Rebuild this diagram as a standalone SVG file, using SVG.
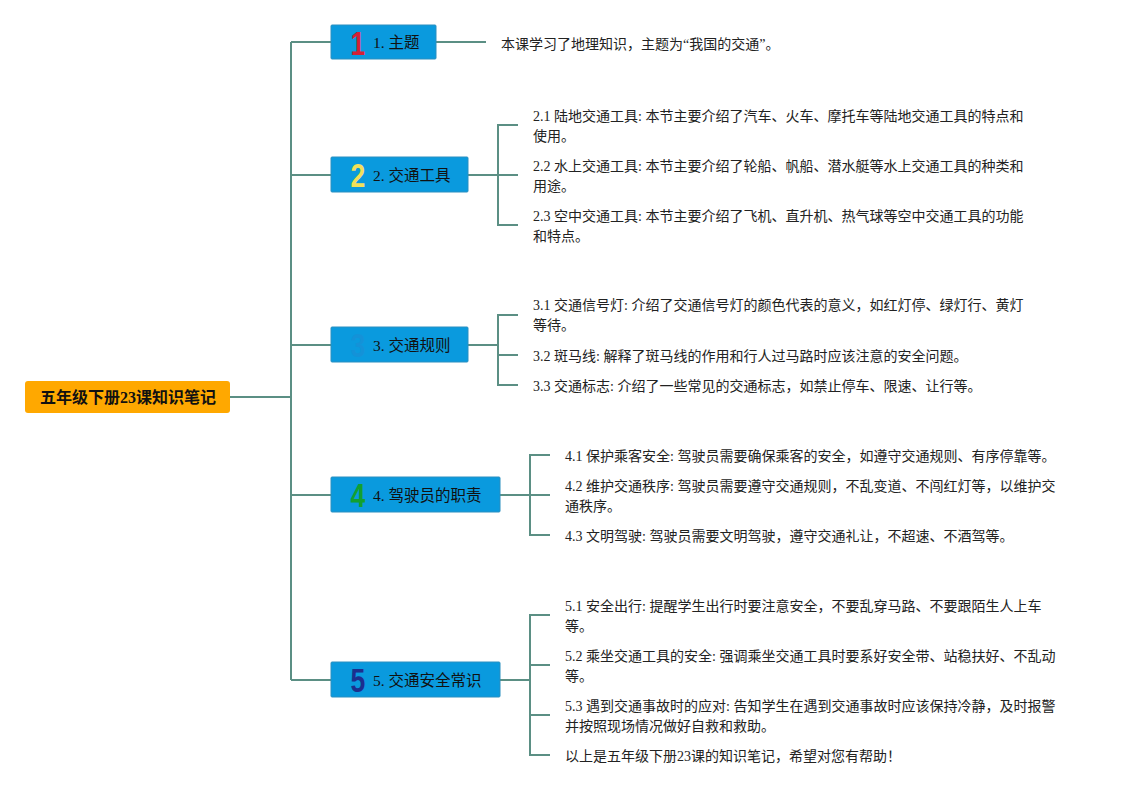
<svg xmlns="http://www.w3.org/2000/svg" width="1125" height="795" viewBox="0 0 1125 795">
<style>
.ln{fill:none;stroke:#5b8f84;stroke-width:2}
.box{fill:#0a9ade;stroke:#2a8fc0;stroke-width:1}
.nt{font-family:"Liberation Serif","Noto Sans CJK SC",serif;font-size:15.5px;fill:#111}
.num{font-family:"Liberation Sans","DejaVu Sans",sans-serif;font-size:34px;font-weight:bold;text-anchor:middle}
.t{font-family:"Liberation Serif","Noto Sans CJK SC",serif;font-size:14px;fill:#222}
.root{font-family:"Liberation Serif","Noto Sans CJK SC",serif;font-size:16px;font-weight:bold;fill:#111;text-anchor:middle}
</style>
<rect width="1125" height="795" fill="#fff"/>
<g id="connectors">
<path class="ln" d="M230 397H291M291 42V680M291 42H331M291 175H331M291 345H331M291 495H331M291 680H331"/>
<path class="ln" d="M436 42H486"/>
<path class="ln" d="M468 175H498M518 125H498V225H518M498 175H518"/>
<path class="ln" d="M468 345H498M518 315H498V385H518M498 355H518"/>
<path class="ln" d="M500 495H530M550 455H530V535H550M530 495H550"/>
<path class="ln" d="M500 680H530M550 615H530V755H550M530 665H550M530 715H550"/>
</g>
<g id="root">
<rect x="25" y="381" width="205" height="32" rx="3" fill="#ffa800"/>
<text class="root" x="128" y="403">五年级下册23课知识笔记</text>
</g>
<g id="n1">
<rect class="box" x="331" y="25" width="105" height="34" rx="1"/>
<text class="num" transform="translate(358 54.5) scale(0.78 1)" fill="#d42035">1</text>
<text class="nt" x="373" y="48">1. 主题</text>
</g>
<g id="n2">
<rect class="box" x="331" y="157" width="137" height="35" rx="1"/>
<text class="num" transform="translate(358 187) scale(0.78 1)" fill="#f2e05a">2</text>
<text class="nt" x="373" y="181">2. 交通工具</text>
</g>
<g id="n3">
<rect class="box" x="331" y="327" width="137" height="35" rx="1"/>
<text class="num" transform="translate(358 357) scale(0.78 1)" fill="#1492d8">3</text>
<text class="nt" x="373" y="351">3. 交通规则</text>
</g>
<g id="n4">
<rect class="box" x="331" y="477" width="169" height="35" rx="1"/>
<text class="num" transform="translate(358 507) scale(0.78 1)" fill="#12a030">4</text>
<text class="nt" x="373" y="501">4. 驾驶员的职责</text>
</g>
<g id="n5">
<rect class="box" x="331" y="662" width="169" height="35" rx="1"/>
<text class="num" transform="translate(358 692) scale(0.78 1)" fill="#1c2f8e">5</text>
<text class="nt" x="373" y="686">5. 交通安全常识</text>
</g>
<g id="t1"><text class="t" x="501" y="49">本课学习了地理知识，主题为“我国的交通”。</text></g>
<g id="t21"><text class="t" x="533" y="121">2.1 陆地交通工具: 本节主要介绍了汽车、火车、摩托车等陆地交通工具的特点和</text><text class="t" x="533" y="141">使用。</text></g>
<g id="t22"><text class="t" x="533" y="171">2.2 水上交通工具: 本节主要介绍了轮船、帆船、潜水艇等水上交通工具的种类和</text><text class="t" x="533" y="191">用途。</text></g>
<g id="t23"><text class="t" x="533" y="221">2.3 空中交通工具: 本节主要介绍了飞机、直升机、热气球等空中交通工具的功能</text><text class="t" x="533" y="241">和特点。</text></g>
<g id="t31"><text class="t" x="533" y="310">3.1 交通信号灯: 介绍了交通信号灯的颜色代表的意义，如红灯停、绿灯行、黄灯</text><text class="t" x="533" y="330">等待。</text></g>
<g id="t32"><text class="t" x="533" y="361">3.2 斑马线: 解释了斑马线的作用和行人过马路时应该注意的安全问题。</text></g>
<g id="t33"><text class="t" x="533" y="391">3.3 交通标志: 介绍了一些常见的交通标志，如禁止停车、限速、让行等。</text></g>
<g id="t41"><text class="t" x="565" y="461">4.1 保护乘客安全: 驾驶员需要确保乘客的安全，如遵守交通规则、有序停靠等。</text></g>
<g id="t42"><text class="t" x="565" y="491">4.2 维护交通秩序: 驾驶员需要遵守交通规则，不乱变道、不闯红灯等，以维护交</text><text class="t" x="565" y="511">通秩序。</text></g>
<g id="t43"><text class="t" x="565" y="541">4.3 文明驾驶: 驾驶员需要文明驾驶，遵守交通礼让，不超速、不酒驾等。</text></g>
<g id="t51"><text class="t" x="565" y="611">5.1 安全出行: 提醒学生出行时要注意安全，不要乱穿马路、不要跟陌生人上车</text><text class="t" x="565" y="631">等。</text></g>
<g id="t52"><text class="t" x="565" y="661">5.2 乘坐交通工具的安全: 强调乘坐交通工具时要系好安全带、站稳扶好、不乱动</text><text class="t" x="565" y="681">等。</text></g>
<g id="t53"><text class="t" x="565" y="711">5.3 遇到交通事故时的应对: 告知学生在遇到交通事故时应该保持冷静，及时报警</text><text class="t" x="565" y="731">并按照现场情况做好自救和救助。</text></g>
<g id="t54"><text class="t" x="565" y="761">以上是五年级下册23课的知识笔记，希望对您有帮助！</text></g>
</svg>
